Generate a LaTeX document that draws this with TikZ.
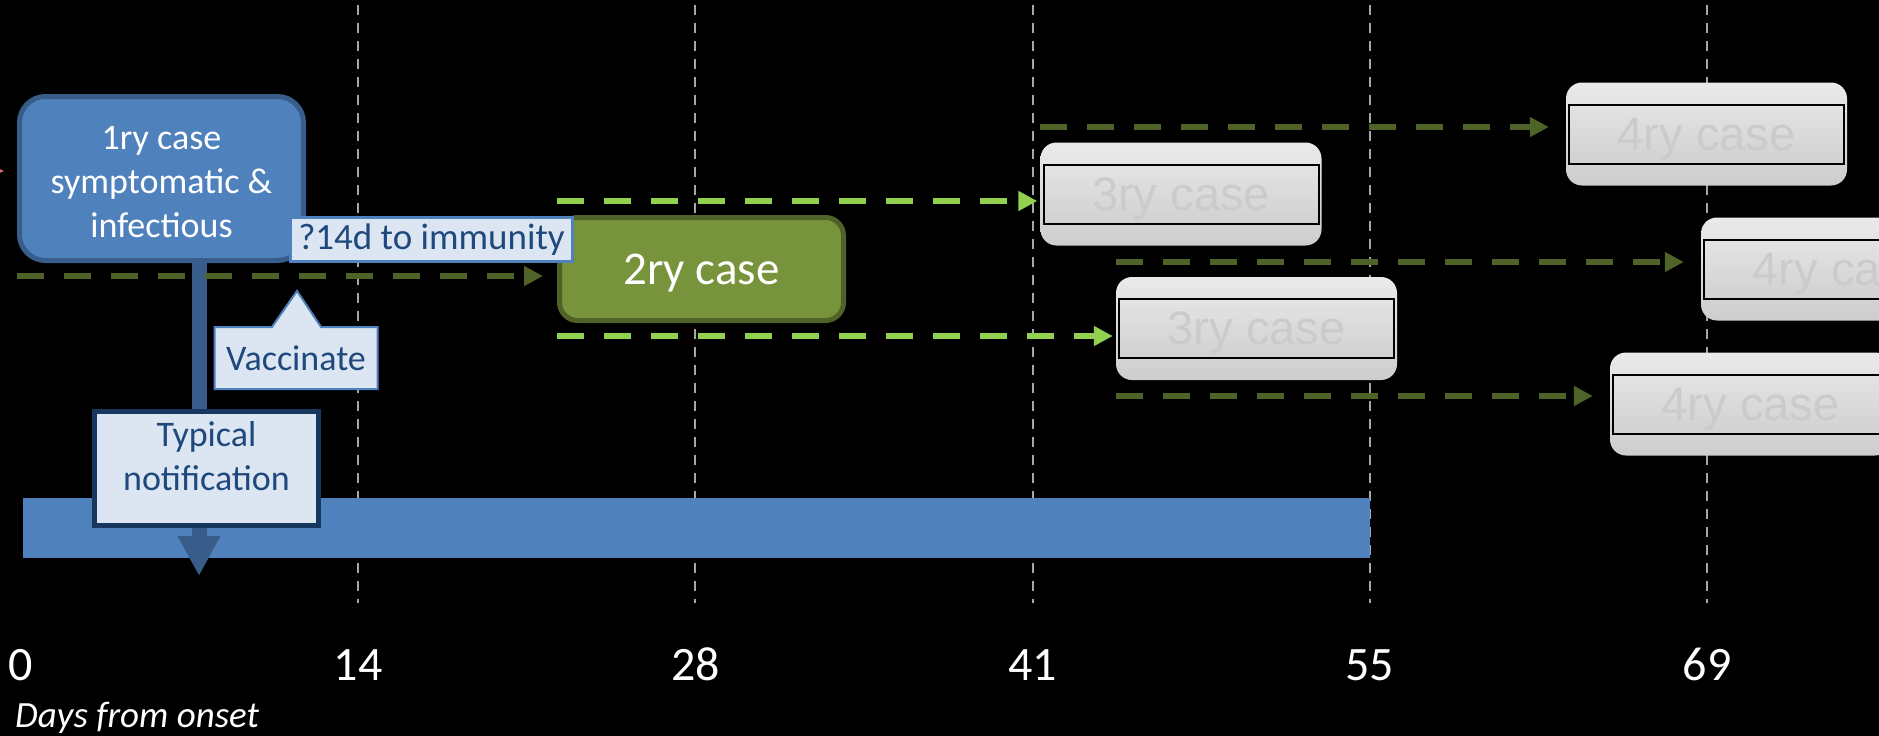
\documentclass[tikz,border=0pt]{standalone}
\usepackage{fontspec}
\setmainfont{Carlito}
\newfontfamily\arialfont{Liberation Sans}
\usetikzlibrary{arrows.meta,shapes.callouts}
\definecolor{ryblue}{HTML}{4F81BD}
\definecolor{rybluedark}{HTML}{385D8A}
\definecolor{notefill}{HTML}{DCE6F2}
\definecolor{notetext}{HTML}{1F497D}
\definecolor{noteline}{HTML}{17375E}
\definecolor{rygreen}{HTML}{77933C}
\definecolor{dashdark}{HTML}{4F6228}
\definecolor{dashlight}{HTML}{92D050}
\definecolor{gridgrey}{HTML}{A6A6A6}
\definecolor{casetop}{HTML}{EAEAEA}
\definecolor{casebot}{HTML}{CDCDCD}
\definecolor{innertop}{HTML}{EAEAEA}
\definecolor{innermid}{HTML}{E0E0E0}
\definecolor{innerbot}{HTML}{CACACA}
\definecolor{casetext}{HTML}{CBCBCB}
\definecolor{redtip}{HTML}{E06666}

\begin{document}
\begin{tikzpicture}[x=1pt,y=-1pt]
  \tikzstyle{every node}=[font=\fontsize{36}{44}\selectfont,align=center]
  \tikzstyle{gridline}=[gridgrey,line width=2pt,dash pattern=on 10pt off 8pt]
  \tikzstyle{daylabel}=[white,anchor=base,inner sep=0pt,font=\fontsize{48}{56}\selectfont]
  \tikzstyle{darkarrow}=[dashdark,line width=6pt,dash pattern=on 27pt off 20pt,-{Triangle[length=19pt,width=19pt]}]
  \tikzstyle{lightarrow}=[darkarrow,dashlight]
  \tikzstyle{firstcase}=[draw=rybluedark,fill=ryblue,line width=5pt,rounded corners=26pt,text=white,minimum width=284pt,minimum height=164pt,text height=118pt,text depth=0pt]
  \tikzstyle{secondcase}=[draw=dashdark,fill=rygreen,line width=5pt,rounded corners=18pt,text=white,minimum width=284pt,minimum height=103pt,font=\fontsize{47}{56}\selectfont,text depth=0pt]
  \tikzstyle{casebox}=[rounded corners=16pt,minimum width=281pt,minimum height=103pt,top color=casetop,bottom color=casebot,text=casetext,font=\arialfont\fontsize{47}{52}\selectfont,text depth=0pt,
    path picture={\draw[sharp corners,black,line width=2pt,top color=innertop,middle color=innermid,bottom color=innerbot]
      ([xshift=3pt,yshift=-22pt]path picture bounding box.north west) rectangle
      ([xshift=-3pt,yshift=22pt]path picture bounding box.south east);}]
  \tikzstyle{note}=[draw=ryblue,fill=notefill,line width=2.5pt,text=notetext]
  \useasboundingbox (0,0) rectangle (1879,736);
  \fill[black] (0,0) rectangle (1879,736);
  \clip (0,0) rectangle (1879,736);
  \foreach \d [count=\i from 0] in {0,14,28,41,55,69}{
    \node[daylabel] (day\i) at (21+337.2*\i,680) {\d};
    \ifnum\i>0 \draw[gridline] (day\i.base |- 0,5) -- (day\i.base |- 0,603);\fi
  }
  \node[white,anchor=base west,inner sep=0pt,font=\itshape\fontsize{37}{44}\selectfont] (axisname) at (15,727) {Days from onset};
  \fill[ryblue] (23,498) rectangle (1370,558);
  \coordinate (offleft) at (-30,171);
  \coordinate (redend) at (4,171);
  \draw[redtip,line width=1.5pt,-{Triangle[length=9pt,width=8pt]}] (offleft) -- (redend);
  \node[firstcase] (ry1) at (161.5,178.5) {1ry case\\symptomatic \&\\infectious};
  \coordinate (notifytip) at (199,576);
  \draw[rybluedark,line width=15pt,-{Triangle[length=40pt,width=40pt]}] (ry1.south -| notifytip) -- (notifytip);
  \coordinate (vaxtip) at (297,291);
  \node[note,rectangle callout,callout absolute pointer={(vaxtip)},callout pointer width=49pt,minimum width=163pt,minimum height=62pt,inner sep=0pt,line width=2pt] (vaccinate) at (296,358) {Vaccinate};
  \node[note,draw=noteline,line width=5pt,minimum width=224pt,minimum height=114pt,inner ysep=0pt,text height=71pt,text depth=28pt] (notify) at (206.5,468.5) {Typical\\notification};
  \node[secondcase] (ry2) at (701.5,269) {2ry case};
  \node[note,minimum width=282pt,minimum height=44pt,inner sep=0pt,font=\fontsize{37}{44}\selectfont] (immunity) at (431.5,239.5) {?14d to immunity};
  \node[casebox] (ry3a) at (1181,194) {3ry case};
  \node[casebox] (ry3b) at (1256.5,328.5) {3ry case};
  \node[casebox] (ry4a) at (1706.5,134) {4ry case};
  \node[casebox] (ry4b) at (1841.5,269) {4ry case};
  \node[casebox] (ry4c) at (1750.5,404) {4ry case};
  \draw[darkarrow,shorten >=14pt] (ry1.west |- 0,276) -- (ry2.west |- 0,276);
  \draw[lightarrow,shorten >=3pt] (ry2.west |- 0,201) -- (ry3a.west |- 0,201);
  \draw[lightarrow,shorten >=3pt] (ry2.west |- 0,336) -- (ry3b.west |- 0,336);
  \draw[darkarrow,shorten >=17pt] (ry3a.west |- 0,127) -- (ry4a.west |- 0,127);
  \draw[darkarrow,shorten >=17pt] (ry3b.west |- 0,262) -- (ry4b.west |- 0,262);
  \draw[darkarrow,shorten >=17pt] (ry3b.west |- 0,396) -- (ry4c.west |- 0,396);
\end{tikzpicture}
\end{document}
